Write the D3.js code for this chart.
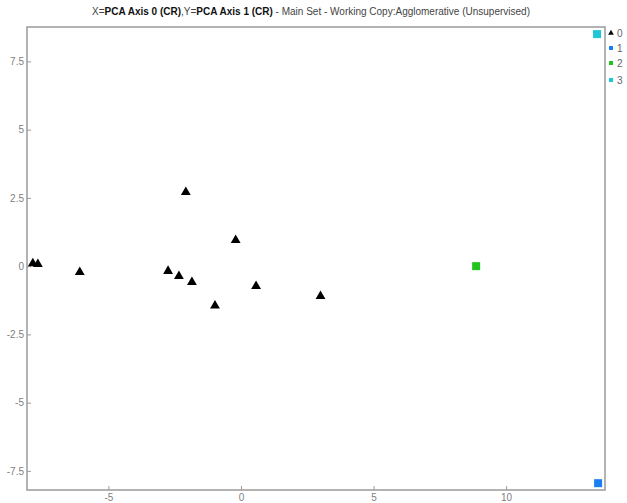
<!DOCTYPE html>
<html><head><meta charset="utf-8">
<script src="https://cdn.jsdelivr.net/npm/d3@7"></script>
<style>body{margin:0;background:#fff;font-family:"Liberation Sans",Arial,sans-serif;}</style>
</head><body>
<svg id="c" width="627" height="503"></svg>
<script>
const clusterNames = ["0","1","2","3"];
const clusterColors = ["#000000","#1a7ff0","#22c31f","#1fc6d6"];
const xValues = [-7.85,-7.66,-6.08,-2.75,-2.34,-1.85,-2.08,-0.2,-0.98,0.57,3.0, 13.47, 8.87, 13.43];
const yValues = [0.1,0.07,-0.22,-0.18,-0.37,-0.59,2.71,0.95,-1.45,-0.73,-1.1, -7.95, 0.0, 8.5];
const clusterOf = [0,0,0,0,0,0,0,0,0,0,0, 1, 2, 3];
const xTicks = [-5,0,5,10];
const yTicks = [-7.5,-5,-2.5,0,2.5,5,7.5];

const svg = d3.select("#c");
const L=27,R=605,T=27,B=490;
const x = d3.scaleLinear().domain([-8.07,13.73]).range([L,R]);
const y = d3.scaleLinear().domain([-8.2,8.76]).range([B,T]);

svg.append("rect").attr("x",L).attr("y",T).attr("width",R-L).attr("height",B-T)
  .attr("fill","none").attr("stroke","#9a9a9a").attr("stroke-width",1.5);

const xa = svg.append("g").attr("transform",`translate(0,${B})`)
  .call(d3.axisBottom(x).tickValues(xTicks).tickSize(4).tickFormat(d=>String(d)));
const ya = svg.append("g").attr("transform",`translate(${L},0)`)
  .call(d3.axisLeft(y).tickValues(yTicks).tickSize(4).tickFormat(d=>String(d)));
[xa,ya].forEach(a=>{
  a.select(".domain").remove();
  a.selectAll("line").attr("stroke","#9a9a9a");
  a.selectAll("text").attr("fill","#808080").attr("font-size","10px").attr("font-family","Liberation Sans, Arial, sans-serif");
});
xa.selectAll(".tick line").attr("y2",-4);
xa.selectAll("text").attr("dy","0.4em");
ya.selectAll(".tick line").attr("x2",4);
ya.selectAll("text").attr("x",-3);

const data = xValues.map((v,i)=>({x:v,y:yValues[i],c:clusterOf[i]}));
const tri = d3.symbol().type(d3.symbolTriangle).size(42);
svg.append("g").selectAll("path").data(data.filter(d=>d.c===0)).join("path")
  .attr("d",tri).attr("transform",d=>`translate(${x(d.x)},${y(d.y)})`).attr("fill","#000");
svg.append("g").selectAll("rect").data(data.filter(d=>d.c!==0)).join("rect")
  .attr("x",d=>x(d.x)-4).attr("y",d=>y(d.y)-4).attr("width",8).attr("height",8)
  .attr("fill",d=>clusterColors[d.c]);

// legend
const lg = svg.append("g");
const ly = [33,48,63,80];
clusterNames.forEach((n,i)=>{
  if(i===0){
    lg.append("path").attr("d",d3.symbol().type(d3.symbolTriangle).size(14)())
      .attr("transform",`translate(611,${ly[i]})`).attr("fill","#000");
  } else {
    lg.append("rect").attr("x",609).attr("y",ly[i]-2).attr("width",4).attr("height",4).attr("fill",clusterColors[i]);
  }
  lg.append("text").attr("x",617).attr("y",ly[i]+4).text(n).attr("font-size","10px").attr("fill","#666");
});

// title
const t = svg.append("text").attr("x",311).attr("y",15).attr("text-anchor","middle")
  .attr("font-size","10px").attr("fill","#444");
t.append("tspan").text("X=");
t.append("tspan").text("PCA Axis 0 (CR)").attr("font-weight","bold").attr("fill","#111");
t.append("tspan").text(",Y=");
t.append("tspan").text("PCA Axis 1 (CR)").attr("font-weight","bold").attr("fill","#111");
t.append("tspan").text(" - Main Set - Working Copy:Agglomerative (Unsupervised)");
</script>
</body></html>
